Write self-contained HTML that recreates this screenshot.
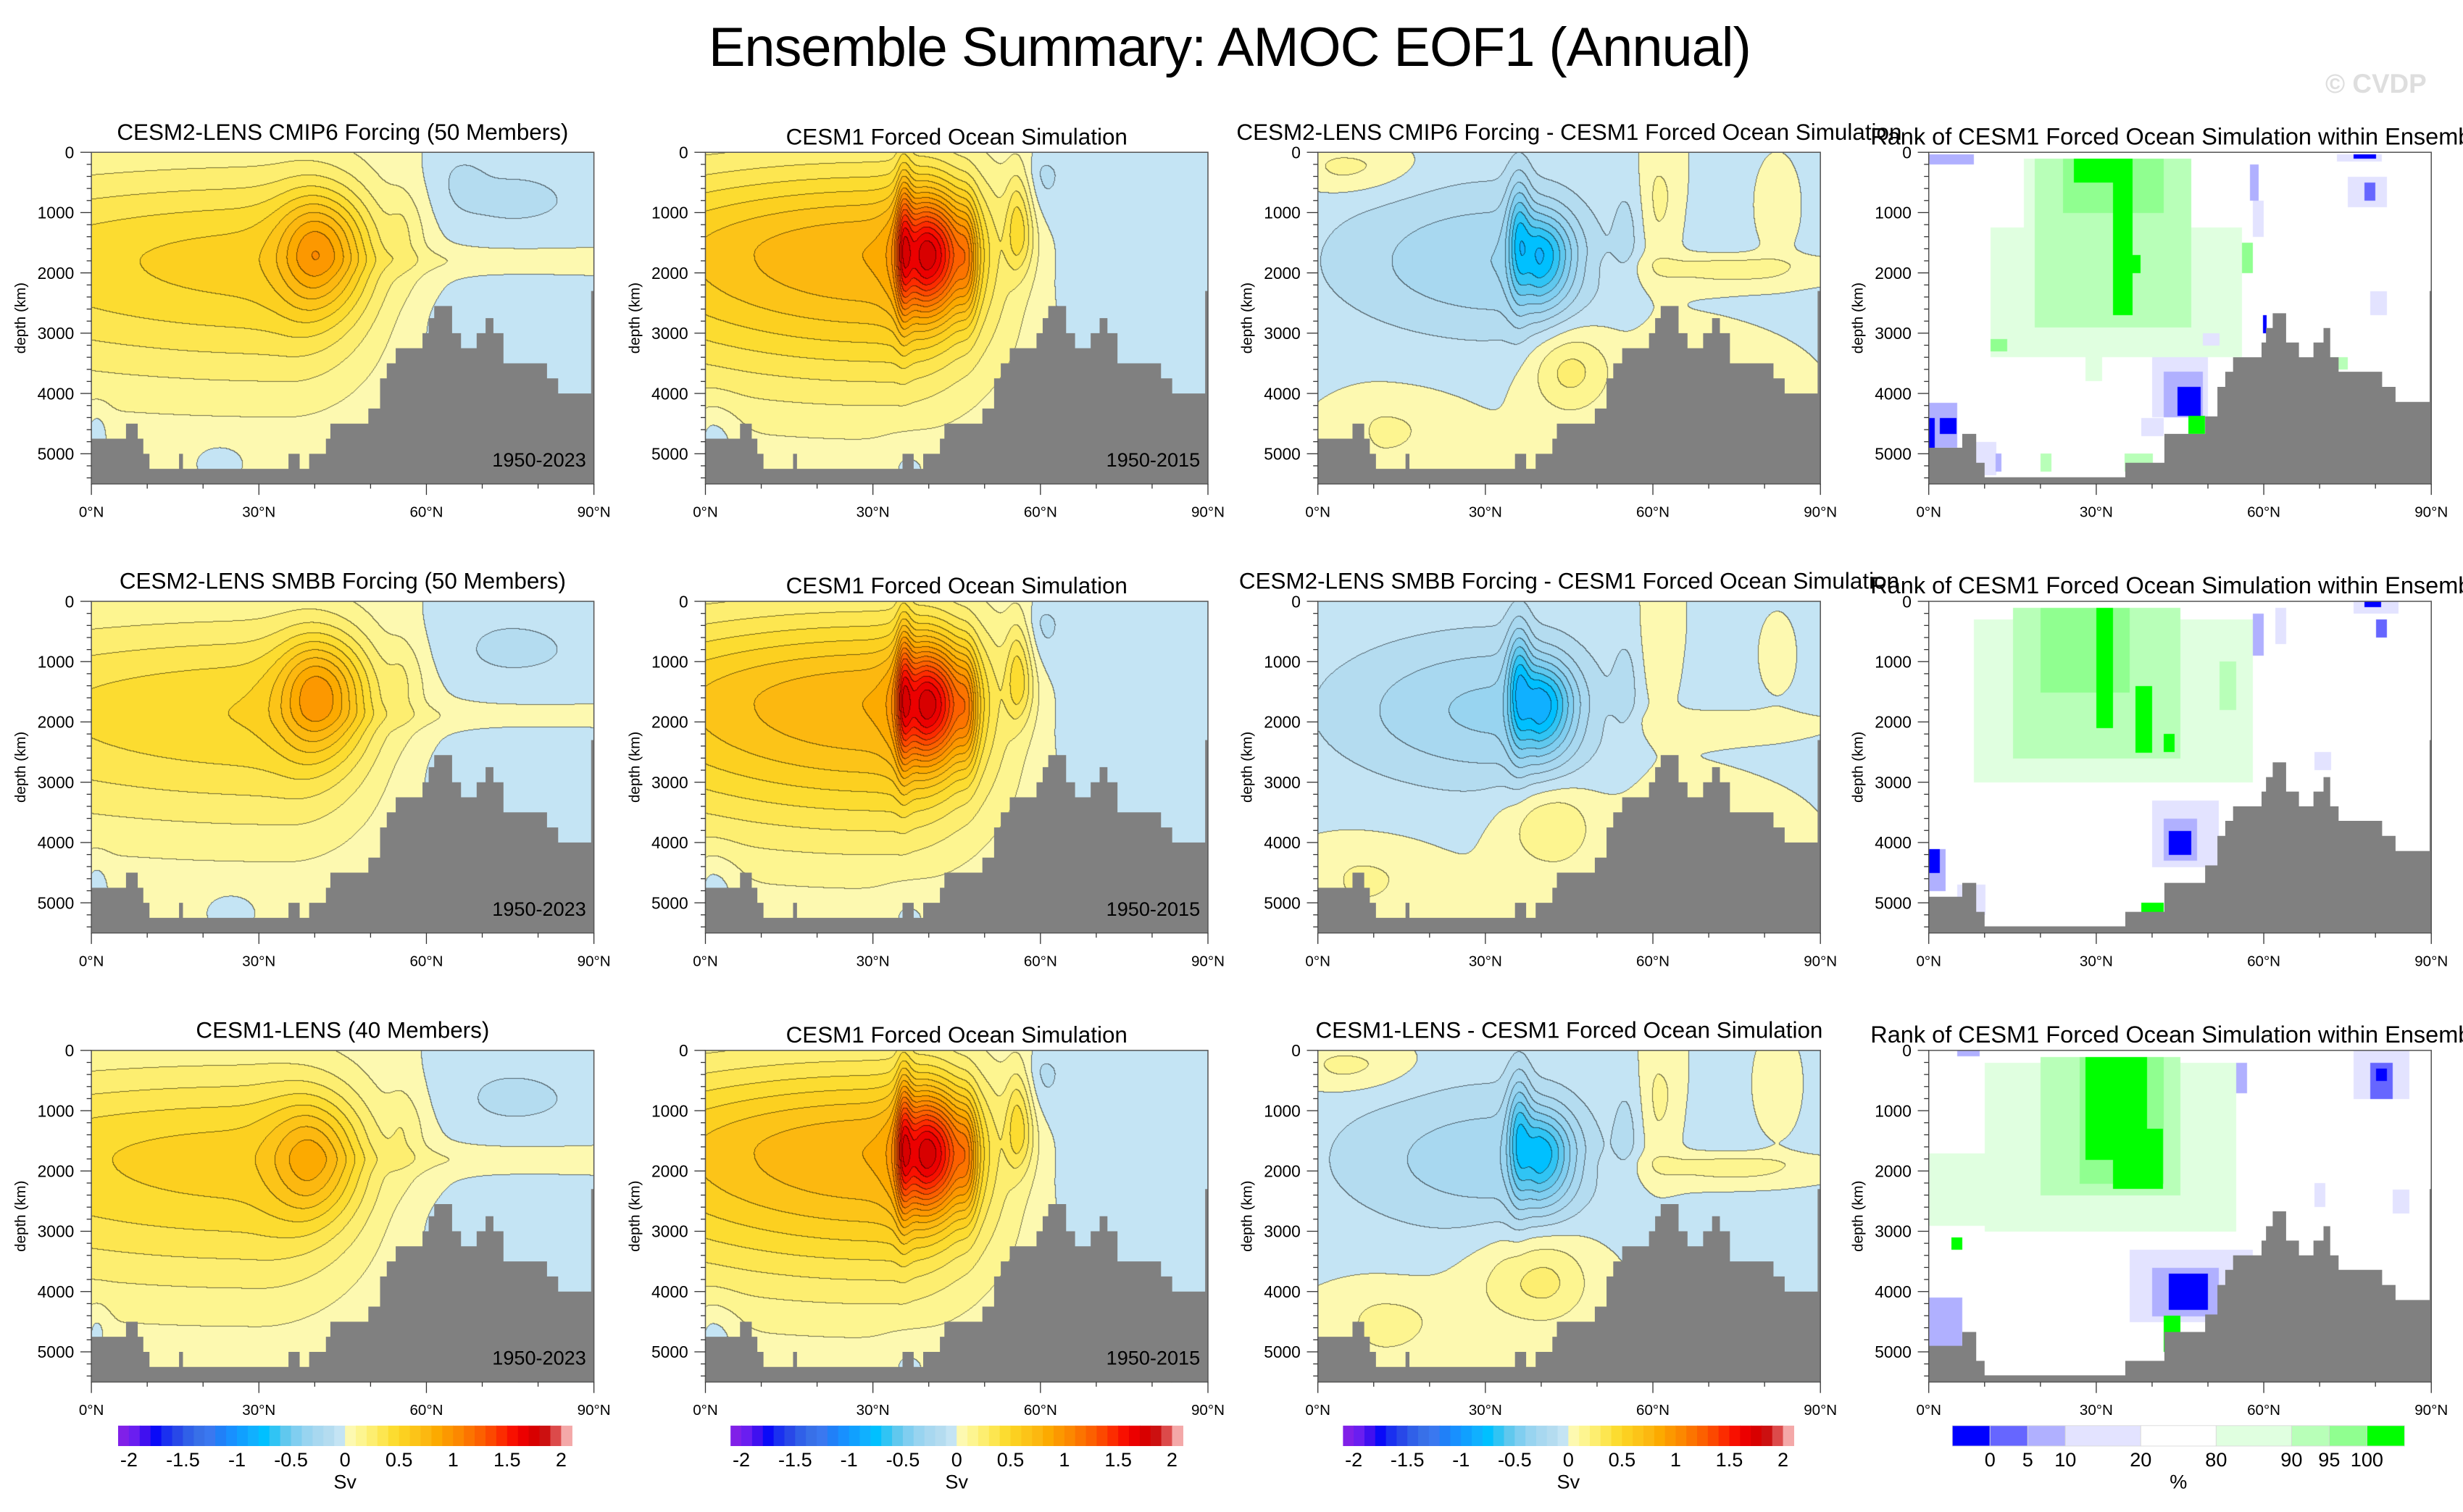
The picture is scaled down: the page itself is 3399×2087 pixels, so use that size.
<!DOCTYPE html>
<html><head><meta charset="utf-8"><title>Ensemble Summary: AMOC EOF1 (Annual)</title>
<style>
html,body{margin:0;padding:0;background:#fff;}
#wrap{position:relative;width:3399px;height:2087px;overflow:hidden;background:#fff;}
#cv{position:absolute;left:0;top:0;}
#sv{position:absolute;left:0;top:0;}
text{font-family:"Liberation Sans",Arial,sans-serif;}
</style></head>
<body>
<div id="wrap">
<canvas id="cv" width="3399" height="2087"></canvas>
<svg id="sv" width="3399" height="2087" viewBox="0 0 1568 963" xmlns="http://www.w3.org/2000/svg">
<text x="783" y="42" font-size="35" text-anchor="middle" textLength="664">Ensemble Summary: AMOC EOF1 (Annual)</text>
<text x="1545" y="59" font-size="17" font-weight="bold" fill="#dedede" text-anchor="end">© CVDP</text>
</svg>
</div>
<script>
// ---------- data ----------
const latTicks = [0, 30, 60, 90];
const latTickLabels = ["0°N", "30°N", "60°N", "90°N"];
const depthTicks = [0, 1000, 2000, 3000, 4000, 5000];
const svLevels = [-2, -1.5, -1, -0.5, 0, 0.5, 1, 1.5, 2];
const svLevelLabels = ["-2", "-1.5", "-1", "-0.5", "0", "0.5", "1", "1.5", "2"];
const rankLabels = ["0", "5", "10", "20", "80", "90", "95", "100"];

// bathymetry: segment start latitude and depth (m)
const bathyLat = [0, 6.2, 8.3, 9.3, 10.4, 15.7, 16.4, 35.3, 37.3, 39.0, 42.0, 42.8, 49.6, 51.7, 52.9, 54.5, 59.3, 60.4, 61.4, 64.6, 66.2, 69.0, 70.6, 72.0, 73.8, 81.6, 83.6, 89.5];
const bathyDepth = [4750, 4500, 4750, 5000, 5250, 5000, 5250, 5000, 5250, 5000, 4750, 4500, 4250, 3750, 3500, 3250, 3000, 2750, 2550, 3000, 3250, 3000, 2750, 3000, 3500, 3750, 4000, 2300];
const rankBathyLat = [0, 6.0, 8.5, 10.0, 35.2, 42.2, 49.5, 51.7, 53.1, 54.5, 59.6, 60.4, 61.6, 64.0, 66.3, 68.9, 70.7, 71.9, 73.4, 81.2, 83.6, 89.7];
const rankBathyDepth = [4900, 4670, 5150, 5390, 5150, 4670, 4380, 3890, 3640, 3400, 3155, 2915, 2670, 3155, 3400, 3155, 2915, 3400, 3640, 3890, 4140, 2300];

// field components [lat, depth, sigLatS, sigLatN, sigDepUp, sigDepDown, amplitude Sv]
const blobsCmip6 = [[35,1800,60,12,1100,1400,0.55],[41,1600,5,6,650,700,0.5],[56,1200,2,3,500,600,0.12],[75,800,12,14,600,500,-0.12],[66,400,3,3,300,400,-0.06],[75,2800,12,14,500,700,-0.1],[75,1800,20,20,150,150,0.1],[1,4600,1.5,1.5,300,300,-0.1],[23,5100,3,3,200,200,-0.08]];
const blobsSmbb = [[35,1800,60,12,1100,1400,0.5],[41,1500,5,6,650,700,0.55],[56,1200,2,3,500,600,0.12],[75,800,12,14,600,500,-0.12],[75,2800,12,14,500,700,-0.1],[70,1900,20,20,150,150,0.08],[1,4700,1.5,1.5,300,300,-0.1],[25,5100,3,3,200,200,-0.08]];
const blobsLens1 = [[30,1800,60,14,1100,1500,0.55],[40,1800,5,6,700,700,0.42],[56,1200,2,3,500,600,0.12],[75,800,12,14,600,500,-0.12],[75,2900,12,14,500,700,-0.1],[75,1800,20,20,150,150,0.1],[1,4600,1.5,1.5,300,300,-0.1]];
const blobsForced = [[32,1700,45,14,1100,1500,0.8],[40,1700,3.5,5,700,700,1.1],[35.5,1500,0.9,1,900,900,0.5],[47,1800,1.2,1.2,700,700,0.3],[56,1300,1.5,2,700,500,0.35],[72,2000,14,16,1500,900,-0.09],[60,400,2,3,300,500,-0.14],[1.5,4700,2,3,400,400,-0.12],[36,5100,3,4,300,300,-0.06]];
const blobsDiff1 = [[33,1800,22,12,900,900,-0.3],[36,1400,1.5,1.5,700,800,-0.45],[40,1700,2,4,500,600,-0.55],[55,1400,1.5,1.5,600,600,-0.1],[45,3600,5,5,500,500,0.25],[61,800,2,3,600,800,0.15],[78,1200,12,12,800,1500,-0.06],[75,1900,12,10,150,250,0.2],[82,1000,3,3,500,500,0.14],[12,4600,5,8,400,500,0.12],[5,250,6,8,250,300,0.15],[70,3500,10,10,600,600,0.08]];
const blobsDiff2 = [[33,1800,22,12,900,900,-0.33],[36,1400,1.5,1.5,700,800,-0.5],[40,1700,2,4,500,600,-0.6],[55,1400,1.5,1.5,600,600,-0.1],[42,3700,6,5,500,500,0.22],[61,800,2,3,600,800,0.12],[78,1200,12,12,800,1500,-0.06],[75,2000,12,10,150,250,0.12],[82,1000,3,3,500,500,0.1],[8,4600,6,8,400,500,0.12],[70,3500,10,10,600,600,0.08]];
const blobsDiff3 = [[33,1800,22,12,900,900,-0.27],[36,1400,1.5,1.5,700,800,-0.45],[40,1700,2,4,500,600,-0.55],[55,1400,1.5,1.5,600,600,-0.1],[40,3800,8,6,600,500,0.25],[61,800,2,3,600,800,0.15],[78,1200,12,12,800,1500,-0.06],[75,1900,12,10,150,250,0.2],[82,800,3,3,500,500,0.14],[12,4500,6,8,400,500,0.14],[5,250,6,8,250,300,0.15]];

// rank patches [lat0, lat1, depth0, depth1, category]
const rankRow1 = [[11,56,1250,3400,5],[17,43,100,1250,5],[19,47,100,2900,6],[24,42,100,1000,7],[33,36.5,100,2700,8],[26,36,100,500,8],[36,38,1700,2000,8],[11,14,3100,3300,7],[56,58,1500,2000,7],[71,75,3400,3600,6],[28,31,3100,3800,5],[20,22,5000,5300,6],[35,40,5000,5300,6],[40,50,3400,4400,3],[42,49,3640,4400,2],[44.5,48.7,3890,4370,0],[46.5,49.5,4370,4670,8],[38,42,4400,4700,3],[0,5,4150,4900,2],[0,1,4400,4900,0],[2,5,4400,4670,0],[8,12,4800,5350,3],[12,13,5000,5300,2],[0,8,30,200,2],[73,81,30,150,3],[76,80,30,100,0],[75,82,400,900,3],[78,80,500,800,1],[57.5,59,200,800,2],[58,60,800,1400,3],[59.8,60.5,2700,3000,0],[79,82,2300,2700,3],[49,52,3000,3200,3]];
const rankRow2 = [[8,58,300,3000,5],[15,45,100,2600,6],[20,36,100,1500,7],[30,33,100,2100,8],[37,40,1400,2500,8],[42,44,2200,2500,8],[52,55,1000,1800,6],[40,52,3300,4400,3],[42,48,3600,4300,2],[43,47,3800,4200,0],[0,3,4100,4800,2],[0,2,4100,4500,0],[5,10,4700,5200,3],[76,84,0,200,3],[78,81,0,100,0],[80,82,300,600,1],[62,64,100,700,3],[69,72,2500,2800,3],[58,60,200,900,2],[38,42,5000,5300,8]];
const rankRow3 = [[10,55,200,3000,5],[20,45,100,2400,6],[27,42,100,2200,7],[28,39,100,1800,8],[33,42,1300,2300,8],[0,12,1700,2900,5],[36,58,3300,4500,3],[40,52,3600,4400,2],[43,50,3700,4300,0],[0,3,4400,5200,0],[0,6,4100,5300,2],[76,86,0,800,3],[79,83,200,800,1],[80,82,300,500,0],[69,71,2200,2600,3],[83,86,2300,2700,3],[5,9,0,100,2],[55,57,200,700,2],[42,45,4400,5000,8],[4,6,3100,3300,8]];

// ---------- layout ----------
const S = 3399 / 1568;
const colX = [58, 449, 839, 1228];
const rowY = [97, 383, 669];
const PW = 320, PH = 211.2, DMAX = 5500;
const panelTitles = [
  ["CESM2-LENS CMIP6 Forcing (50 Members)", "CESM1 Forced Ocean Simulation", "CESM2-LENS CMIP6 Forcing - CESM1 Forced Ocean Simulation", "Rank of CESM1 Forced Ocean Simulation within Ensemble"],
  ["CESM2-LENS SMBB Forcing (50 Members)", "CESM1 Forced Ocean Simulation", "CESM2-LENS SMBB Forcing - CESM1 Forced Ocean Simulation", "Rank of CESM1 Forced Ocean Simulation within Ensemble"],
  ["CESM1-LENS (40 Members)", "CESM1 Forced Ocean Simulation", "CESM1-LENS - CESM1 Forced Ocean Simulation", "Rank of CESM1 Forced Ocean Simulation within Ensemble"]];
const panelBlobs = [[blobsCmip6, blobsForced, blobsDiff1], [blobsSmbb, blobsForced, blobsDiff2], [blobsLens1, blobsForced, blobsDiff3]];
const panelRanks = [rankRow1, rankRow2, rankRow3];
const yearLabels = ["1950-2023", "1950-2015"];

const svPalette = ["#8020e8","#6a1ef0","#4010f0","#0a0af8","#1a30f0","#2848e8","#3060e8","#3870e8","#3a78f0","#2080f8","#1890ff","#10a0ff","#10b0ff","#00c0ff","#30c4f4","#60c8ee","#80cef0","#98d4f0","#a8d8f0","#b4dcf0","#c4e4f4","#fdf9b0","#fdf590","#fdee70","#fde650","#fcdc30","#fcd020","#fcc418","#fcb810","#fcaa00","#fc9800","#fc8800","#fc7400","#fc6000","#fc4800","#fc2c00","#f81000","#ec0000","#d80000","#cc1010","#dc4a4a","#f4a8a8"];
const rankPalette = ["#0000ff","#6666ff","#b0b0ff","#e3e3ff","#ffffff","#e0ffe0","#b8ffb8","#90ff90","#00ff00"];

const svgNS = "http://www.w3.org/2000/svg";
const svg = document.getElementById("sv");
function mk(tag, attrs, parent) {
  const e = document.createElementNS(svgNS, tag);
  for (const k in attrs) e.setAttribute(k, attrs[k]);
  (parent || svg).appendChild(e);
  return e;
}
function hex(c){return [parseInt(c.slice(1,3),16),parseInt(c.slice(3,5),16),parseInt(c.slice(5,7),16)];}
const svRGB = svPalette.map(hex);

// ---------- fields on canvas ----------
const cv = document.getElementById("cv");
const ctx = cv.getContext("2d");
ctx.fillStyle = "#fff"; ctx.fillRect(0, 0, 3399, 2087);

function fieldValue(blobs, lat, dep) {
  let v = 0;
  for (const b of blobs) {
    const dl = lat - b[0], dd = dep - b[1];
    const sl = dl < 0 ? b[2] : b[3], sd = dd < 0 ? b[4] : b[5];
    v += b[6] * Math.exp(-(dl*dl/(2*sl*sl) + dd*dd/(2*sd*sd)));
  }
  return v;
}
function levelIndex(v) {
  let i = Math.floor((v + 2) / 0.1 + 1e-9) + 1;
  return Math.max(0, Math.min(41, i));
}
function drawField(blobs, px, py) {
  const x0 = Math.round(px*S), x1 = Math.round((px+PW)*S), y0 = Math.round(py*S), y1 = Math.round((py+PH)*S);
  const w = x1 - x0, h = y1 - y0;
  const idx = new Int16Array(w*h);
  for (let j = 0; j < h; j++) {
    const dep = (j + 0.5) / h * DMAX;
    for (let i = 0; i < w; i++) {
      const lat = (i + 0.5) / w * 90;
      idx[j*w+i] = levelIndex(fieldValue(blobs, lat, dep));
    }
  }
  const img = ctx.createImageData(w, h);
  for (let j = 0; j < h; j++) for (let i = 0; i < w; i++) {
    const k = j*w+i, c = svRGB[idx[k]];
    let line = (i > 0 && idx[k-1] !== idx[k]) || (j > 0 && idx[k-w] !== idx[k]);
    const f = line ? 0.45 : 1;
    img.data[k*4] = c[0]*f; img.data[k*4+1] = c[1]*f; img.data[k*4+2] = c[2]*f; img.data[k*4+3] = 255;
  }
  ctx.putImageData(img, x0, y0);
}
function drawRank(rects, px, py) {
  for (const r of rects) {
    ctx.fillStyle = rankPalette[r[4]];
    const xa = (px + r[0]/90*PW)*S, xb = (px + r[1]/90*PW)*S;
    const ya = (py + r[2]/DMAX*PH)*S, yb = (py + r[3]/DMAX*PH)*S;
    ctx.fillRect(Math.round(xa), Math.round(ya), Math.round(xb-xa), Math.round(yb-ya));
  }
}

// ---------- axes helpers ----------
const lx = (px, lat) => px + lat/90*PW;
const dy = (py, d) => py + d/DMAX*PH;

for (let r = 0; r < 3; r++) {
  for (let c = 0; c < 4; c++) {
    const px = colX[c], py = rowY[r];
    if (c < 3) drawField(panelBlobs[r][c], px, py); else drawRank(panelRanks[r], px, py);
    const g = mk("g", {});
    
    
    const bl = c < 3 ? bathyLat : rankBathyLat, bd = c < 3 ? bathyDepth : rankBathyDepth;
    let pts = [[lx(px,0), dy(py,DMAX)]];
    for (let i = 0; i < bl.length; i++) {
      const a = bl[i], b = i+1 < bl.length ? bl[i+1] : 90;
      pts.push([lx(px,a), dy(py,bd[i])]); pts.push([lx(px,b), dy(py,bd[i])]);
    }
    pts.push([lx(px,90), dy(py,DMAX)]);
    const poly = mk("polygon", {points: pts.map(p => p[0].toFixed(2)+","+p[1].toFixed(2)).join(" "), fill: "#808080"}, g);
    
    
    const fr = mk("rect", {x: px, y: py, width: PW, height: PH, fill: "none", stroke: "#555", "stroke-width": 0.7}, g);
    
    
    for (let lat = 0; lat <= 90; lat += 10) {
      const major = lat % 30 === 0;
      const t = mk("line", {x1: lx(px,lat), x2: lx(px,lat), y1: py+PH, y2: py+PH+(major?7:3), stroke: "#333", "stroke-width": 0.6}, g);
      
      
    }
    latTicks.forEach((lat, i) => {
      const t = mk("text", {x: lx(px,lat), y: py+PH+21, "font-size": 9.5, "text-anchor": "middle"}, g);
      t.textContent = latTickLabels[i];
      
      
    });
    for (let d = 0; d <= DMAX; d += 200) {
      const major = d % 1000 === 0;
      const t = mk("line", {x1: px, x2: px-(major?7:3), y1: dy(py,d), y2: dy(py,d), stroke: "#333", "stroke-width": 0.6}, g);
      
      
    }
    depthTicks.forEach(d => {
      const t = mk("text", {x: px-11, y: dy(py,d)+3.8, "font-size": 10.5, "text-anchor": "end"}, g);
      t.textContent = String(d);
      
      
    });
    const yt = mk("text", {x: 0, y: 0, "font-size": 9.5, "text-anchor": "middle", transform: "translate(" + (px-42) + "," + (py+PH/2) + ") rotate(-90)"}, g);
    yt.textContent = "depth (km)";
    
    
    const tt = mk("text", {x: px+PW/2, y: py - ((c % 2 === 0) ? 8 : 5), "font-size": c === 3 ? 15 : 14.5, "text-anchor": "middle"}, g);
    tt.textContent = panelTitles[r][c];
    
    
    if (c < 2) {
      const yl = mk("text", {x: px+PW-5, y: py+PH-11, "font-size": 12.5, "text-anchor": "end"}, g);
      yl.textContent = yearLabels[c];
      
      
    }
  }
}

// ---------- colorbars ----------
const cbX = [[75, 364], [465, 753], [855, 1142]];
const CBY = 908, CBH = 13;
cbX.forEach((xr, ci) => {
  const g = mk("g", {});
  
  
  const n = svPalette.length, bw = (xr[1]-xr[0]) / n;
  svPalette.forEach((col, i) => {
    const b = mk("rect", {x: xr[0]+i*bw, y: CBY, width: bw+0.3, height: CBH, fill: col}, g);
    
    
  });
  svLevels.forEach((lv, i) => {
    const pos = xr[0] + (Math.round((lv + 2) / 0.1) + 1) * bw;
    const t = mk("text", {x: pos, y: CBY+CBH+13, "font-size": 12.5, "text-anchor": "middle"}, g);
    t.textContent = svLevelLabels[i];
    
    
  });
  const u = mk("text", {x: (xr[0]+xr[1])/2, y: CBY+CBH+27, "font-size": 12.5, "text-anchor": "middle"}, g);
  u.textContent = "Sv";
  
  
});
(function(){
  const g = mk("g", {});
  
  
  const x0 = 1243, x1 = 1531;
  const edges = [0, 1, 2, 3, 5, 7, 9, 10, 11, 12];
  const unit = (x1 - x0) / 12;
  rankPalette.forEach((col, i) => {
    const b = mk("rect", {x: x0+edges[i]*unit, y: CBY, width: (edges[i+1]-edges[i])*unit, height: CBH, fill: col, stroke: "#d8d8d8", "stroke-width": 0.4}, g);
    
    
  });
  rankLabels.forEach((lab, i) => {
    const t = mk("text", {x: x0+edges[i+1]*unit, y: CBY+CBH+13, "font-size": 12.5, "text-anchor": "middle"}, g);
    t.textContent = lab;
    
    
  });
  const u = mk("text", {x: (x0+x1)/2, y: CBY+CBH+27, "font-size": 12.5, "text-anchor": "middle"}, g);
  u.textContent = "%";
  
  
})();
</script>
</body></html>
